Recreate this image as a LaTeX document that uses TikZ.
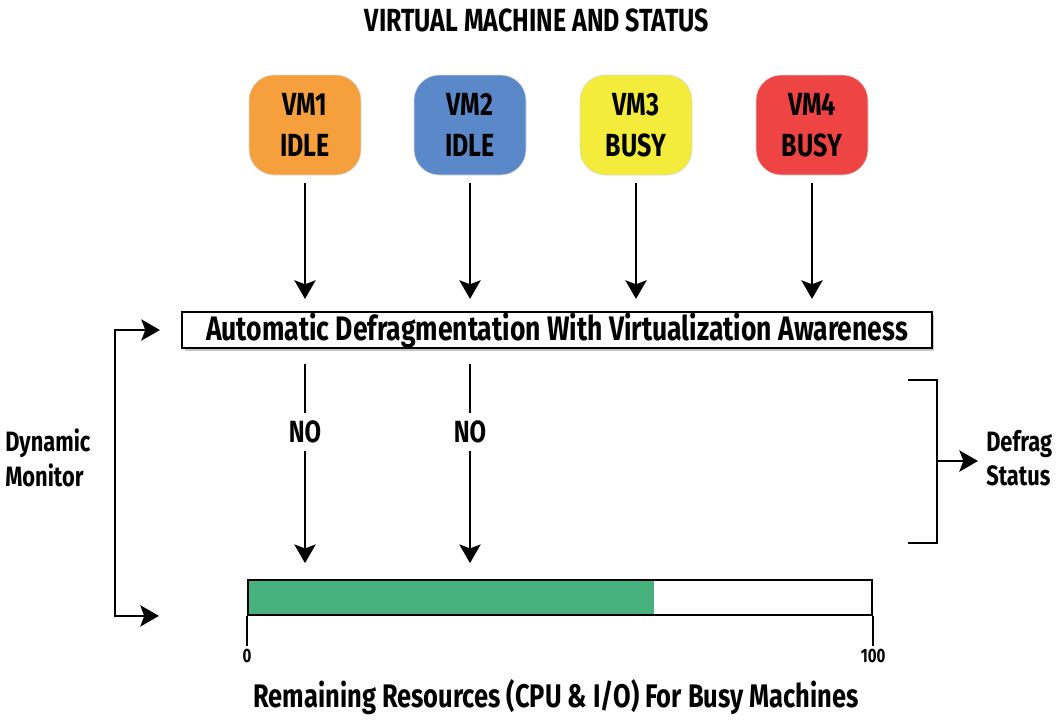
\documentclass[tikz,border=0pt]{standalone}
\usepackage{fontspec}
\setmainfont{Fira Sans}[FakeStretch=0.78]
\usetikzlibrary{positioning,arrows.meta,backgrounds,calc,shadows}
\definecolor{cVmA}{HTML}{F5A03C}
\definecolor{cVmB}{HTML}{5B88C9}
\definecolor{cVmC}{HTML}{F3EC3A}
\definecolor{cVmD}{HTML}{EE4444}
\definecolor{cRes}{HTML}{48B27F}

\begin{document}
\begin{tikzpicture}[
  x=0.75pt,y=-0.75pt,
  font=\bfseries,
  >={Stealth[length=14pt,width=16pt,inset=3pt]},
  vm/.style={rounded corners=19pt,minimum width=84pt,minimum height=75pt,align=center,
    draw=black!15,font=\fontsize{24}{31}\selectfont\bfseries},
  flow/.style={->,line width=1.4pt},
  side/.style={font=\fontsize{21}{26}\selectfont\bfseries,align=left,anchor=west,inner sep=0pt},
]
\useasboundingbox (0,0) rectangle (1057,719);

% ---------- TITLE ----------
\node[font=\fontsize{24}{28}\selectfont\bfseries] (title) at (537,20) {VIRTUAL MACHINE AND STATUS};

% ---------- VIRTUAL MACHINES ----------
\node[vm,fill=cVmA] (vm1) at (305,125) {VM1\\IDLE};
\node[vm,fill=cVmB] (vm2) at (470,125) {VM2\\IDLE};
\node[vm,fill=cVmC] (vm3) at (636,125) {VM3\\BUSY};
\node[vm,fill=cVmD] (vm4) at (812,125) {VM4\\BUSY};

% ---------- DEFRAGMENTATION ----------
\node[draw,fill=white,line width=1.6pt,minimum width=562pt,minimum height=27pt,inner ysep=0pt,
  drop shadow={shadow xshift=2pt,shadow yshift=-2pt,opacity=0.45},
  font=\fontsize{25.5}{28}\selectfont\bfseries] (defrag) at (557,330)
  {Automatic Defragmentation With Virtualization Awareness};

% ---------- RESOURCE BAR ----------
\node[draw,line width=1.6pt,minimum width=468pt,minimum height=26pt,inner sep=0pt] (bar) at (560,597.5) {};
\begin{scope}[on background layer]
  \fill[cRes] (bar.south west) rectangle ($(bar.south west)!0.65!(bar.south east)+(0,-35)$);
\end{scope}
\draw[line width=1.4pt] (bar.south west) -- ++(0,30) node[below,inner sep=2pt,font=\fontsize{14.5}{16}\selectfont\bfseries] (low) {0};
\draw[line width=1.4pt] (bar.south east) -- ++(0,30) node[below,inner sep=2pt,font=\fontsize{14.5}{16}\selectfont\bfseries] (high) {100};
\node[font=\fontsize{24.5}{28}\selectfont\bfseries] (res) at (556,697) {Remaining Resources (CPU \& I/O) For Busy Machines};

% ---------- MAIN ARROWS ----------
\foreach \v in {vm1,vm2,vm3,vm4}
  \draw[flow,shorten <=6pt,shorten >=9pt] (\v) -- (\v |- defrag.north);
\foreach \v in {vm1,vm2}
  \draw[flow,shorten <=11pt,shorten >=12pt] (\v |- defrag.south) -- (\v |- bar.north)
    node[pos=0.36,fill=white,inner xsep=2pt,inner ysep=6pt,font=\fontsize{23}{26}\selectfont\bfseries] {NO};

% ---------- DYNAMIC MONITOR ----------
\coordinate (dmMid) at (115,472);
\draw[<->,line width=1.4pt] ([xshift=-16pt]defrag.west) -| (dmMid) |- ([xshift=-66pt]bar.south west);
\node[side] (dm) at (5,458) {Dynamic\\Monitor};

% ---------- DEFRAG STATUS ----------
\coordinate (dsTop) at (908,380);
\coordinate (dsBot) at (908,543);
\coordinate (dsMid) at (937,461);
\draw[line width=1.4pt] (dsTop) -- (dsMid |- dsTop) -- (dsMid |- dsBot) -- (dsBot);
\node[side] (ds) at (986,458) {Defrag\\Status};
\draw[flow,shorten >=6pt] (dsMid) -- (dsMid -| ds.west);

\end{tikzpicture}
\end{document}
